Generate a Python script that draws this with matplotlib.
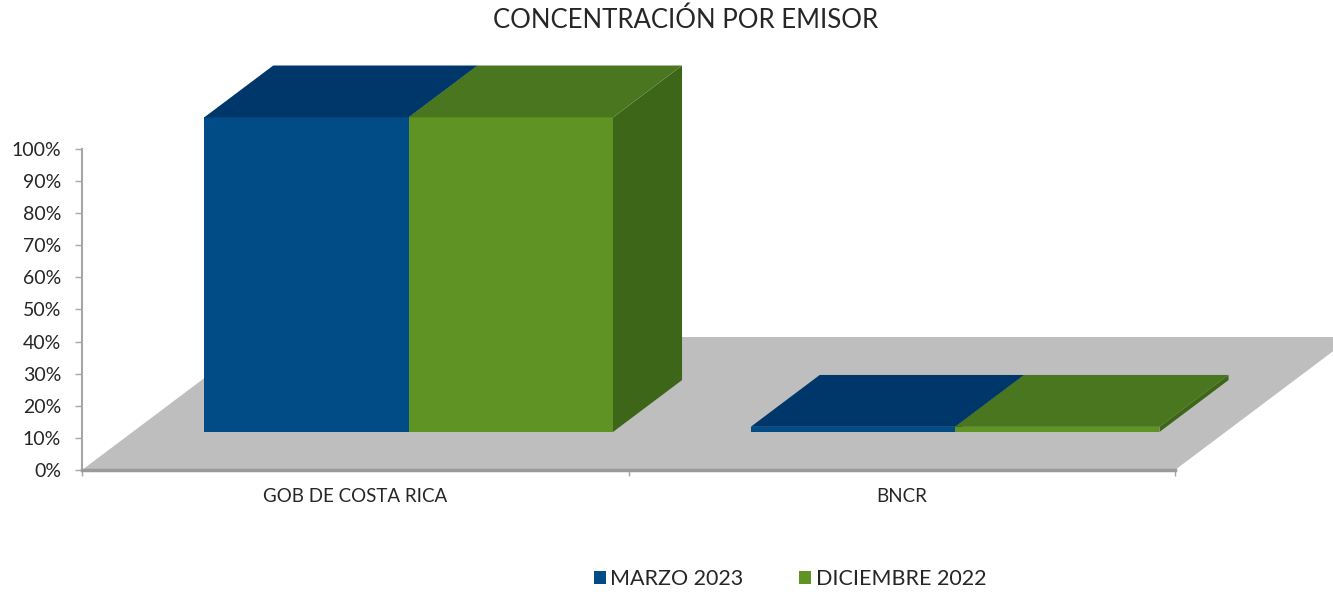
import matplotlib
matplotlib.use("Agg")
import matplotlib.pyplot as plt
from matplotlib.patches import Polygon, Patch
from matplotlib.ticker import PercentFormatter

# ---- data ----
categories = ["GOB DE COSTA RICA", "BNCR"]
series_names = ["MARZO 2023", "DICIEMBRE 2022"]
marzo_2023 = [0.98, 0.016]
diciembre_2022 = [0.98, 0.016]
y_ticks = [0.0, 0.1, 0.2, 0.3, 0.4, 0.5, 0.6, 0.7, 0.8, 0.9, 1.0]

# ---- style ----
FONT = ["Lato", "DejaVu Sans"]
plt.rcParams["font.family"] = FONT
TXT = "#262626"
blue = {"front": "#014B87", "top": "#00376A", "side": "#00305C"}
green = {"front": "#5F9424", "top": "#4A7620", "side": "#3D6619"}
series_colors = [blue, green]
FLOOR = "#BEBEBE"

W, H = 1333, 592
fig = plt.figure(figsize=(W / 100, H / 100), dpi=100)

PX_U = 546.5      # pixels per category unit
PX_V = 321.0      # pixels per value unit
X0, Y0 = 82, 470  # pixel position of origin
VTOP = 1.32
ax = fig.add_axes([X0 / W, (H - Y0) / H, (W - X0) / W, VTOP * PX_V / H])
ax.set_xlim(0, (W - X0) / PX_U)
ax.set_ylim(0, VTOP)

# oblique depth vector (per unit depth) in data units
DU, DV = 177 / PX_U, 133 / PX_V


def P(u, v, z):
    return (u + DU * z, v + DV * z)


# floor
floor = Polygon([P(0, 0, 0), P(2, 0, 0), P(2, 0, 1), P(0, 0, 1)],
                closed=True, facecolor=FLOOR, edgecolor="none", zorder=1)
ax.add_patch(floor)

# bars
GAP = 0.131
BW = 0.374
Z0, Z1 = 0.286, 0.676
values = [marzo_2023, diciembre_2022]
for ci in range(len(categories)):
    for si, vals in enumerate(values):
        c = series_colors[si]
        u0 = ci + GAP + si * BW
        u1 = u0 + BW
        h = vals[ci]
        front = [P(u0, 0, Z0), P(u1, 0, Z0), P(u1, h, Z0), P(u0, h, Z0)]
        top = [P(u0, h, Z0), P(u1, h, Z0), P(u1, h, Z1), P(u0, h, Z1)]
        side = [P(u1, 0, Z0), P(u1, 0, Z1), P(u1, h, Z1), P(u1, h, Z0)]
        zb = 2 + ci * 10 + si * 3
        ax.add_patch(Polygon(side, closed=True, facecolor=c["side"], edgecolor="none", zorder=zb))
        ax.add_patch(Polygon(front, closed=True, facecolor=c["front"], edgecolor="none", zorder=zb + 1))
        ax.add_patch(Polygon(top, closed=True, facecolor=c["top"], edgecolor="none", zorder=zb + 1))

# axes styling
for s in ["top", "right"]:
    ax.spines[s].set_visible(False)
ax.spines["left"].set_bounds(0, 1)
ax.spines["left"].set_color("#A6A6A6")
ax.spines["left"].set_linewidth(1.5)
ax.spines["bottom"].set_bounds(0, 2)
ax.spines["bottom"].set_color("#9A9A9A")
ax.spines["bottom"].set_linewidth(2.5)
ax.spines["bottom"].set_zorder(50)
ax.patch.set_alpha(0)

ax.set_yticks(y_ticks)
ax.yaxis.set_major_formatter(PercentFormatter(1.0, decimals=0))
ax.tick_params(axis="y", length=5, width=1, color="#A6A6A6", labelsize=14,
               labelcolor=TXT, pad=10)

ax.set_xticks([0, 1, 2])
ax.set_xticklabels(["", "", ""])
ax.set_xticks([0.5, 1.5], minor=True)
ax.set_xticklabels(categories, minor=True)
ax.tick_params(axis="x", which="major", length=4, width=1, color="#A6A6A6")
ax.tick_params(axis="x", which="minor", length=0, labelsize=13.5, labelcolor=TXT, pad=13)

# title
fig.text(686 / W, 1 - 20 / H, "CONCENTRACIÓN POR EMISOR", ha="center", va="center",
         fontsize=18.5, color=TXT)

# legend
handles = [Patch(facecolor=c["front"], edgecolor="none") for c in series_colors]
fig.legend(handles, series_names, loc="center", bbox_to_anchor=(790 / W, 1 - 579 / H),
           ncol=2, frameon=False, fontsize=15.5, handlelength=0.55, handleheight=0.55,
           handletextpad=0.2, columnspacing=2.6, labelcolor=TXT)

fig.savefig("out.png", dpi=100, facecolor="white")
